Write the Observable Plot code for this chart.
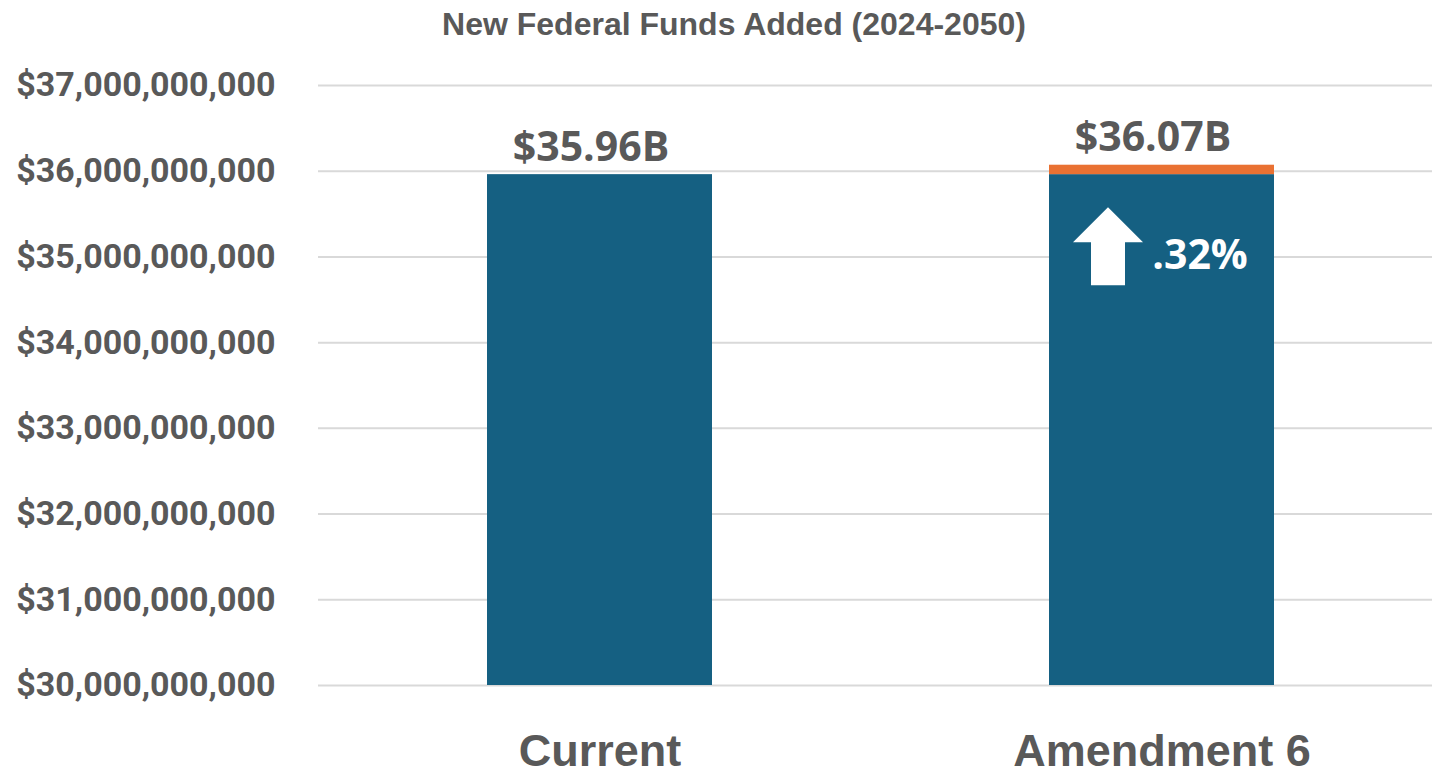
<!DOCTYPE html>
<html>
<head>
<meta charset="utf-8">
<script src="https://cdn.jsdelivr.net/npm/d3@7"></script>
<script src="https://cdn.jsdelivr.net/npm/@observablehq/plot@0.6"></script>
<style>
  html, body { margin: 0; padding: 0; background: #fff; }
  body { width: 1432px; height: 775px; overflow: hidden; font-family: "Liberation Sans", Arial, sans-serif; }
  #title { height: 45px; line-height: 48px; text-align: center; padding-left: 36px; font-size: 32px; font-weight: bold; color: #595959; }
  #chart svg { display: block; }
  #chart svg [aria-label="x-axis tick label"] text { font-weight: bold; }
  #chart svg [aria-label="y-axis tick label"] text { font-weight: bold; font-family: Roboto, "Liberation Sans", sans-serif; }
</style>
</head>
<body>
<div id="title">New Federal Funds Added (2024-2050)</div>
<div id="chart"></div>
<script>
// Data
const categories = ["Current", "Amendment 6"];
const baseValues = [35.96e9, 35.96e9];     // blue portion
const totalValues = [35.96e9, 36.07e9];    // total (blue + orange)
const totalLabels = ["$35.96B", "$36.07B"];
const yTicks = [30e9, 31e9, 32e9, 33e9, 34e9, 35e9, 36e9, 37e9];
const changeLabel = ".32%";
const changeCategory = "Amendment 6";
const changeLabelBaseline = 34.86e9;
const arrowBaseValue = 34.67e9;

const bars = categories.map((c, i) => ({category: c, base: baseValues[i], total: totalValues[i], label: totalLabels[i]}));
const change = [{category: changeCategory, label: changeLabel, y: changeLabelBaseline, arrowY: arrowBaseValue}];

const gray = "#595959";
const blue = "#156082";
const orange = "#E97132";

const arrowShape = {
  draw(ctx, l) {
    const shaft = 17, head = 35, headLen = l * 0.45;
    ctx.moveTo(-shaft, 0);
    ctx.lineTo(shaft, 0);
    ctx.lineTo(shaft, -(l - headLen));
    ctx.lineTo(head, -(l - headLen));
    ctx.lineTo(0, -l);
    ctx.lineTo(-head, -(l - headLen));
    ctx.lineTo(-shaft, -(l - headLen));
    ctx.closePath();
  }
};

const chart = Plot.plot({
  width: 1432,
  height: 730,
  marginTop: 40,
  marginBottom: 90,
  marginLeft: 318,
  marginRight: 0,
  style: {fontFamily: "'Liberation Sans', Arial, sans-serif", background: "#fff"},
  x: {domain: categories, range: [318, 1443], paddingInner: 0.6, paddingOuter: 0.3, axis: null},
  y: {domain: [30e9, 37e9], axis: null},
  marks: [
    Plot.ruleY(yTicks, {stroke: "#d9d9d9", strokeWidth: 2}),
    Plot.barY(bars, {x: "category", y1: 30e9, y2: "base", fill: blue}),
    Plot.barY(bars, {x: "category", y1: "base", y2: "total", fill: orange}),
    Plot.text(bars, {x: "category", y: "total", text: "label", dx: -9, dy: -14, lineAnchor: "bottom", fontSize: 41, fontWeight: "bold", fontFamily: "'Open Sans', sans-serif", fill: gray}),
    Plot.vector(change, {x: "category", y: "arrowY", dx: -54, length: 78, rotate: 0, anchor: "start", shape: arrowShape, fill: "white", stroke: "none"}),
    Plot.text(change, {x: "category", y: "y", dx: 38, text: "label", lineAnchor: "bottom", fontSize: 41, fontWeight: "bold", fontFamily: "'Open Sans', sans-serif", fill: "white"}),
    Plot.axisY({ticks: yTicks, tickFormat: d3.format("$,"), tickSize: 0, tickPadding: 43, fontSize: 34, fill: gray, fontWeight: "bold", label: null}),
    Plot.axisX({tickSize: 0, tickPadding: 49, fontSize: 45, fill: gray, fontWeight: "bold", label: null})
  ]
});
document.getElementById("chart").appendChild(chart);
</script>
</body>
</html>
